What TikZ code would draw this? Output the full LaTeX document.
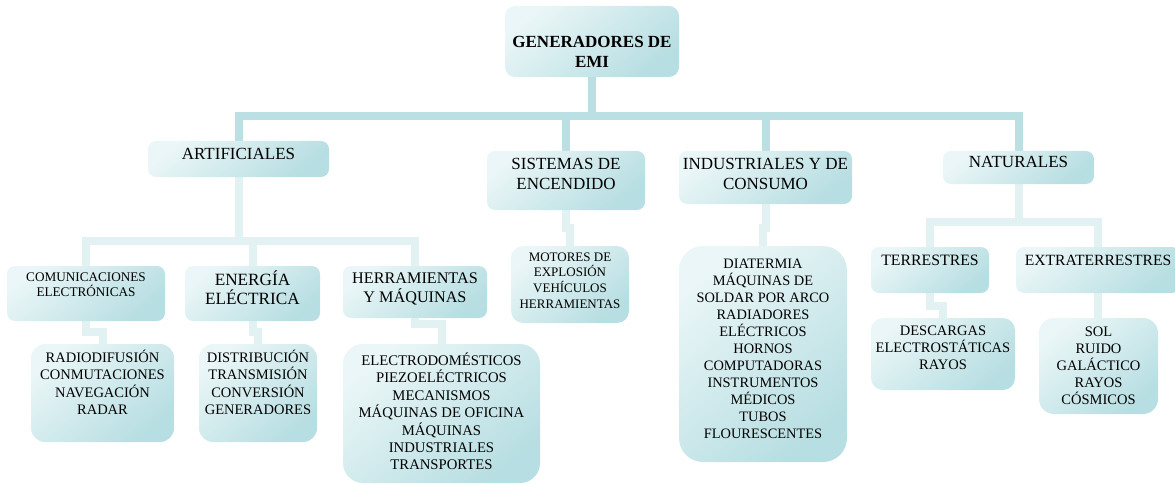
\documentclass[tikz,border=0pt]{standalone}
\usepackage{fontspec}
\setmainfont{Liberation Serif}
\definecolor{boxL}{RGB}{234,246,247}
\definecolor{boxD}{RGB}{183,222,226}
\definecolor{connA}{RGB}{186,224,227}
\definecolor{connB}{RGB}{226,242,243}
\pgfdeclarelayer{bg}
\pgfsetlayers{bg,main}
% width, height, font size, leading, first-baseline offset, text
\newcommand\bt[6]{\parbox[c][#2pt][t]{#1pt}{\centering\fontsize{#3}{#4}\selectfont\rule{0pt}{#5pt}#6}}
\begin{document}
\begin{tikzpicture}[x=1pt,y=-1pt,
  bx/.style={inner sep=0pt, outer sep=0pt, rounded corners=#1,
    top color=boxL, middle color=boxL, bottom color=boxD, shading angle=40},
  bx/.default=8pt,
  linkA/.style={draw=connA, line width=8pt},
  linkB/.style={draw=connB, line width=8pt}]
\clip (0,0) rectangle (1175,484);
% level 0
\node[bx=10pt] (root) at (592,41.5) {\bt{174}{71}{17}{20}{42}{\bfseries GENERADORES DE\\EMI}};
% level 1
\node[bx] (art) at (238.5,159) {\bt{181}{36}{17}{20}{18}{ARTIFICIALES}};
\node[bx] (sis) at (566,180.5) {\bt{158}{59}{17}{20.5}{18}{SISTEMAS DE\\ENCENDIDO}};
\node[bx] (ind) at (765.5,177.5) {\bt{173}{53}{17}{20.5}{18}{INDUSTRIALES Y DE\\CONSUMO}};
\node[bx] (nat) at (1018.5,167.5) {\bt{151}{33}{17}{20}{17}{NATURALES}};
% level 2
\node[bx] (com) at (86,293.5) {\bt{158}{55}{13.2}{15}{15}{COMUNICACIONES\\ELECTRÓNICAS}};
\node[bx] (ene) at (252.5,293.5) {\bt{135}{55}{17.2}{19.5}{19}{ENERGÍA\\ELÉCTRICA}};
\node[bx] (her) at (415,292) {\bt{144}{52}{16.2}{19}{17}{HERRAMIENTAS\\Y MÁQUINAS}};
\node[bx] (ter) at (930,270) {\bt{118}{46}{15.8}{19}{18}{TERRESTRES}};
\node[bx] (ext) at (1098,270) {\bt{164}{46}{15.6}{19}{18}{EXTRATERRESTRES}};
% leaves
\node[bx=14pt] (rad) at (102.5,393) {\bt{143}{98}{14.5}{17.6}{18}{RADIODIFUSIÓN\\CONMUTACIONES\\NAVEGACIÓN\\RADAR}};
\node[bx=14pt] (dis) at (258,393) {\bt{118}{98}{14.5}{17.6}{18}{DISTRIBUCIÓN\\TRANSMISIÓN\\CONVERSIÓN\\GENERADORES}};
\node[bx=20pt] (ele) at (441.5,413.5) {\bt{197}{139}{14.7}{17.4}{21.5}{ELECTRODOMÉSTICOS\\PIEZOELÉCTRICOS\\MECANISMOS\\MÁQUINAS DE OFICINA\\MÁQUINAS\\INDUSTRIALES\\TRANSPORTES}};
\node[bx=12pt] (mot) at (570,284.5) {\bt{118}{77}{13}{15.7}{15}{MOTORES DE\\EXPLOSIÓN\\VEHÍCULOS\\HERRAMIENTAS}};
\node[bx=24pt] (dia) at (763,354) {\bt{168}{216}{14.4}{17}{22}{DIATERMIA\\MÁQUINAS DE\\SOLDAR POR ARCO\\RADIADORES\\ELÉCTRICOS\\HORNOS\\COMPUTADORAS\\INSTRUMENTOS\\MÉDICOS\\TUBOS\\FLOURESCENTES}};
\node[bx=12pt] (des) at (943,354) {\bt{144}{72}{14.5}{17}{17}{DESCARGAS\\ELECTROSTÁTICAS\\RAYOS}};
\node[bx=15pt] (sol) at (1098.5,366) {\bt{119}{96}{14.5}{17}{18}{SOL\\RUIDO\\GALÁCTICO\\RAYOS\\CÓSMICOS}};
% connectors
\coordinate (b1) at (0,116.5);
\coordinate (b2) at (0,241);
\coordinate (b3) at (0,222);
\coordinate (e1) at (0,332);
\coordinate (e2) at (0,324);
\coordinate (e3) at (0,228);
\coordinate (e4) at (0,306);
\begin{pgfonlayer}{bg}
\draw[linkA] (root.south) |- (art.north |- b1) -- (art.north);
\draw[linkA] (root.south) |- (sis.north |- b1) -- (sis.north);
\draw[linkA] (root.south) |- (ind.north |- b1) -- (ind.north);
\draw[linkA] (root.south) |- (nat.north |- b1) -- (nat.north);
\draw[linkB] (art.south) |- (com.north |- b2) -- (com.north);
\draw[linkB] (art.south) |- (ene.north |- b2) -- (ene.north);
\draw[linkB] (art.south) |- (her.north |- b2) -- (her.north);
\draw[linkB] (nat.south) |- (ter.north |- b3) -- (ter.north);
\draw[linkB] (nat.south) |- (ext.north |- b3) -- (ext.north);
\draw[linkB] (com.south) |- (rad.north |- e1) -- (rad.north);
\draw[linkB] (ene.south) |- (dis.north |- e1) -- (dis.north);
\draw[linkB] (her.south) |- (ele.north |- e2) -- (ele.north);
\draw[linkB] (sis.south) |- (mot.north |- e3) -- (mot.north);
\draw[linkB] (ind.south) |- (dia.north |- e3) -- (dia.north);
\draw[linkB] (ter.south) |- (des.north |- e4) -- (des.north);
\draw[linkB] (ext.south) -- (ext.south |- sol.north);
\end{pgfonlayer}
\end{tikzpicture}
\end{document}
